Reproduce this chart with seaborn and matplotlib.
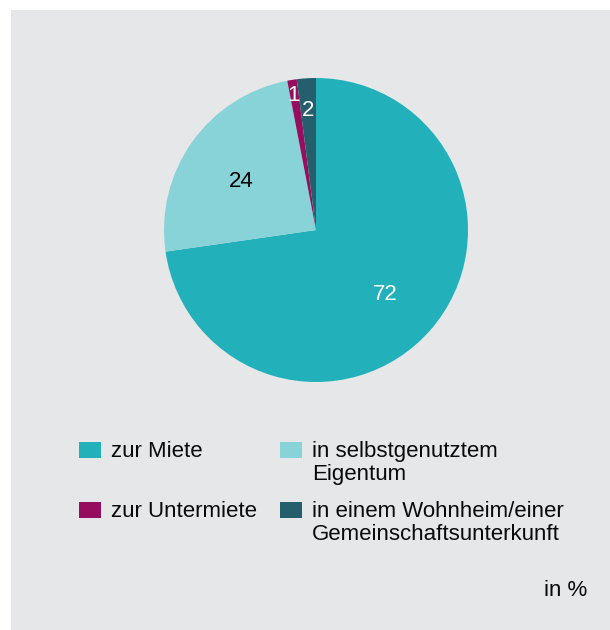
import matplotlib
matplotlib.use("Agg")
import matplotlib.pyplot as plt
import seaborn as sns
import numpy as np
from matplotlib.patches import Rectangle

categories = ["zur Miete", "in selbstgenutztem\nEigentum", "zur Untermiete",
              "in einem Wohnheim/einer\nGemeinschaftsunterkunft"]
values = [72, 24, 1, 2]
colors = ["#22b1bb", "#88d3d8", "#960f5e", "#255f6e"]
label_colors = ["white", "black", "white", "white"]
label_radius = [0.6, 0.6, 0.93, 0.82]

sns.set_theme(style="white")
plt.rcParams["font.family"] = ["Liberation Sans", "DejaVu Sans"]

W, H = 610, 630
fig = plt.figure(figsize=(W / 100, H / 100), dpi=100)
fig.patch.set_facecolor("white")
# gray panel
fig.patches.append(Rectangle((11 / W, 0), 1 - 11 / W, 1 - 10 / H,
                             transform=fig.transFigure, facecolor="#e6e7e8",
                             edgecolor="none", zorder=-5))

ax = fig.add_axes([164 / W, (H - 382) / H, 304 / W, 304 / H])
ax.set_zorder(2)
ax.set_facecolor("none")
wedges, _ = ax.pie(values, colors=colors, startangle=90, counterclock=False,
                   wedgeprops=dict(linewidth=0))
for w, v, c, r in zip(wedges, values, label_colors, label_radius):
    th = np.deg2rad((w.theta1 + w.theta2) / 2)
    ax.text(r * np.cos(th), r * np.sin(th) - 0.015, str(v), color=c,
            fontsize=16, ha="center", va="center_baseline")
ax.set_xlim(-1, 1)
ax.set_ylim(-1, 1)
ax.set_aspect("equal")
ax.axis("off")

# legend
leg_pos = [(79, 450), (280, 450), (79, 510), (280, 510)]
for (x, y), lab, col in zip(leg_pos, categories, colors):
    fig.patches.append(Rectangle((x / W, (H - y - 8) / H), 22 / W, 16 / H,
                                 transform=fig.transFigure, facecolor=col,
                                 edgecolor="none", zorder=1))
    fig.text((x + 32) / W, (H - y + 9) / H, lab, fontsize=16, ha="left",
             va="top", color="#0a0a0a", linespacing=1.12)

fig.text(587 / W, (H - 591) / H, "in %", fontsize=16, ha="right",
         va="center", color="#0a0a0a")

fig.savefig("out.png", dpi=100, facecolor=fig.get_facecolor())
